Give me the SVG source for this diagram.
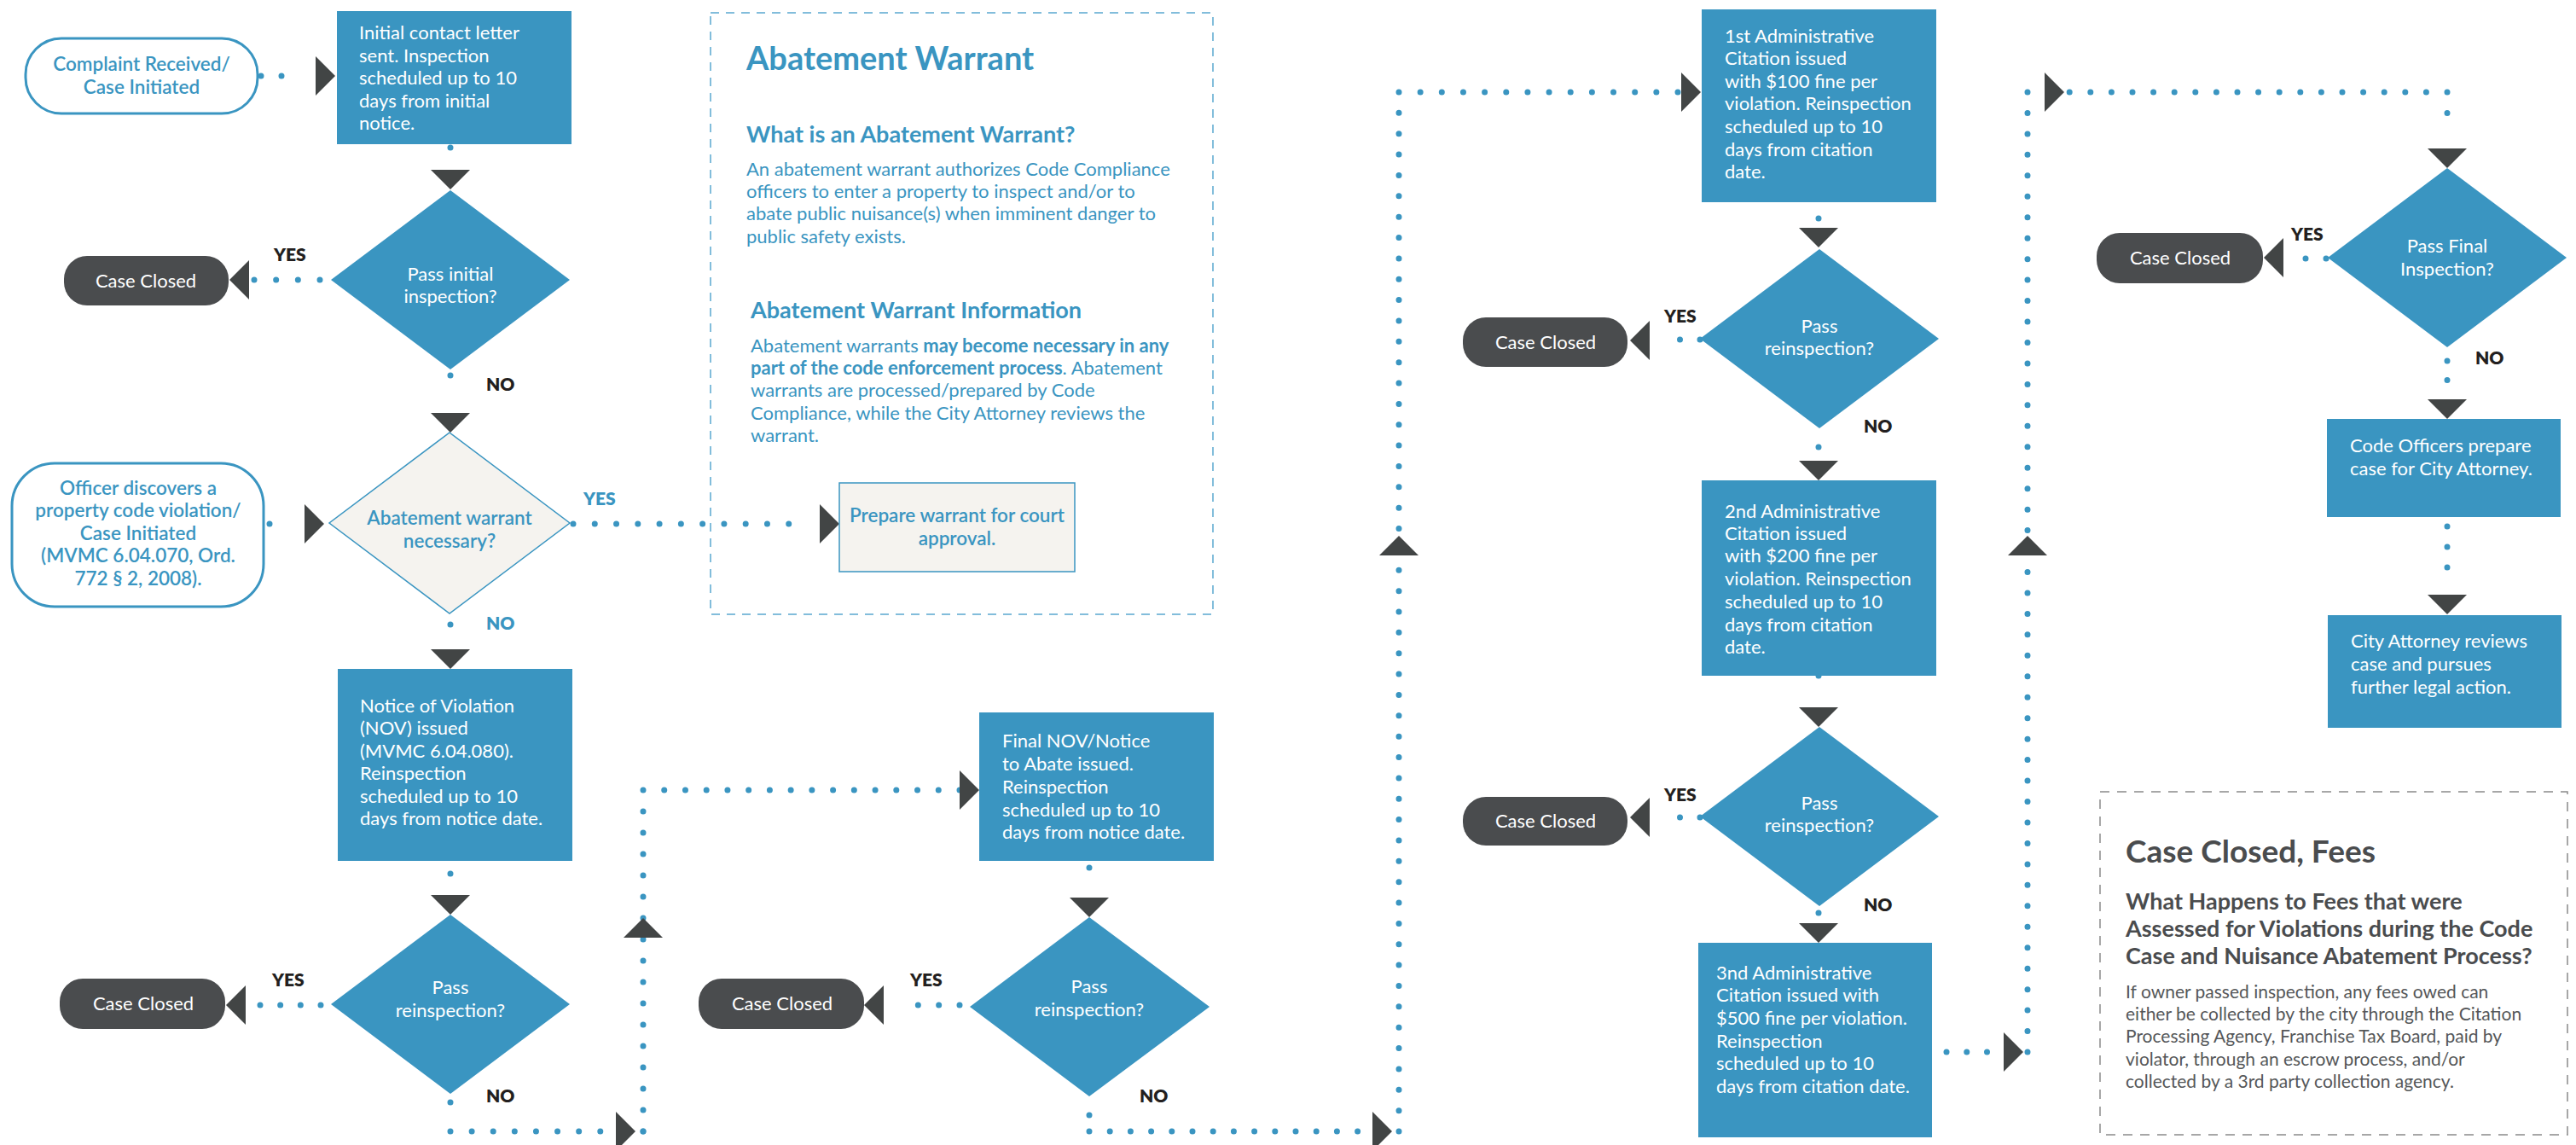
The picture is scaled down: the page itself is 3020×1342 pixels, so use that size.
<svg xmlns="http://www.w3.org/2000/svg" xmlns:xlink="http://www.w3.org/1999/xlink" width="3020" height="1342" viewBox="0 0 3020 1342">
<defs>
<style>
.box{fill:#3a95c1}
.bt{font-family:Lato,"Liberation Sans",sans-serif;font-size:22px;fill:#ffffff}
.dt{font-family:Lato,"Liberation Sans",sans-serif;font-size:22px;fill:#ffffff;text-anchor:middle}
.cc{fill:#4a4c4e}
.cct{font-family:Lato,"Liberation Sans",sans-serif;font-size:22px;fill:#ffffff;text-anchor:middle}
.pill{fill:#ffffff;stroke:#3a95c1;stroke-width:3}
.pt{font-family:Lato,"Liberation Sans",sans-serif;font-size:22.5px;font-weight:600;fill:#3a95c1;text-anchor:middle}
.yn{font-family:Lato,"Liberation Sans",sans-serif;font-size:21px;font-weight:800;fill:#231f20}
.ynb{font-family:Lato,"Liberation Sans",sans-serif;font-size:21px;font-weight:800;fill:#3a95c1}
.beige{fill:#f5f3ef;stroke:#3a95c1;stroke-width:1.5}
.dots{fill:none;stroke:#3a95c1;stroke-width:7;stroke-linecap:round;stroke-dasharray:0 1}
.dot{fill:#3a95c1}
.arr{fill:#424545}
.pnl1{fill:none;stroke:#5aa8d0;stroke-width:1.5;stroke-dasharray:10 8}
.pnl2{fill:none;stroke:#8a8a8a;stroke-width:1.5;stroke-dasharray:11 9}
.h1{font-family:Lato,"Liberation Sans",sans-serif;font-size:38px;font-weight:700;fill:#3a95c1}
.h2{font-family:Lato,"Liberation Sans",sans-serif;font-size:27px;font-weight:700;fill:#3a95c1}
.body{font-family:Lato,"Liberation Sans",sans-serif;font-size:22px;fill:#3a95c1}
.g1{font-family:Lato,"Liberation Sans",sans-serif;font-size:37px;font-weight:700;fill:#4a4c4e}
.g2{font-family:Lato,"Liberation Sans",sans-serif;font-size:27px;font-weight:700;fill:#4a4c4e}
.g3{font-family:Lato,"Liberation Sans",sans-serif;font-size:21px;fill:#555759}
</style>
<path id="aD" class="arr" d="M-23,-23 H23 L0,0 Z"/>
<path id="aU" class="arr" d="M-23,23 H23 L0,0 Z"/>
<path id="aR" class="arr" d="M-23,-23 V23 L0,0 Z"/>
<path id="aL" class="arr" d="M23,-23 V23 L0,0 Z"/>
</defs>
<rect width="3020" height="1342" fill="#ffffff"/>

<!-- panels -->
<g id="panel-abatement">
<rect class="pnl1" x="833" y="15" width="589" height="705"/>
<text class="h1" x="875" y="82">Abatement Warrant</text>
<text class="h2" x="875" y="167">What is an Abatement Warrant?</text>
<text class="body" x="875" y="206">An abatement warrant authorizes Code Compliance</text>
<text class="body" x="875" y="232">officers to enter a property to inspect and/or to</text>
<text class="body" x="875" y="258">abate public nuisance(s) when imminent danger to</text>
<text class="body" x="875" y="285">public safety exists.</text>
<text class="h2" x="880" y="373">Abatement Warrant Information</text>
<text class="body" x="880" y="413">Abatement warrants <tspan font-weight="700">may become necessary in any</tspan></text>
<text class="body" x="880" y="439"><tspan font-weight="700">part of the code enforcement process</tspan>. Abatement</text>
<text class="body" x="880" y="465">warrants are processed/prepared by Code</text>
<text class="body" x="880" y="492">Compliance, while the City Attorney reviews the</text>
<text class="body" x="880" y="518">warrant.</text>
</g>
<g id="panel-fees">
<rect class="pnl2" x="2462" y="928" width="548" height="402"/>
<text class="g1" x="2492" y="1011">Case Closed, Fees</text>
<text class="g2" x="2492" y="1066">What Happens to Fees that were</text>
<text class="g2" x="2492" y="1098">Assessed for Violations during the Code</text>
<text class="g2" x="2492" y="1130">Case and Nuisance Abatement Process?</text>
<text class="g3" x="2492" y="1170">If owner passed inspection, any fees owed can</text>
<text class="g3" x="2492" y="1196">either be collected by the city through the Citation</text>
<text class="g3" x="2492" y="1222">Processing Agency, Franchise Tax Board, paid by</text>
<text class="g3" x="2492" y="1249">violator, through an escrow process, and/or</text>
<text class="g3" x="2492" y="1275">collected by a 3rd party collection agency.</text>
</g>

<!-- connectors -->
<g id="connectors">
<path class="dots" pathLength="2" d="M306,89 H354"/>
<use href="#aR" x="393" y="89"/>
<path class="dots" pathLength="1" d="M528,173 V197"/>
<use href="#aD" x="528" y="222"/>
<path class="dots" pathLength="3" d="M375,328 H298"/>
<use href="#aL" x="269" y="328"/>
<path class="dots" pathLength="1" d="M528,440 V464"/>
<use href="#aD" x="528" y="507"/>
<path class="dots" pathLength="1" d="M316,614 H341"/>
<use href="#aR" x="380" y="614"/>
<path class="dots" pathLength="11" d="M672,614 H950"/>
<use href="#aR" x="984" y="614"/>
<path class="dots" pathLength="1" d="M528,732 V756"/>
<use href="#aD" x="528" y="784"/>
<path class="dots" pathLength="1" d="M528,1024 V1048"/>
<use href="#aD" x="528" y="1072"/>
<path class="dots" pathLength="3" d="M376,1178 H305"/>
<use href="#aL" x="265" y="1178"/>
<path class="dots" pathLength="1" d="M528,1292 V1326"/>
<path class="dots" pathLength="9" d="M528,1326 H754"/>
<path class="dots" pathLength="16" d="M754,1326 V926"/>
<path class="dots" pathLength="15" d="M754,926 H1125"/>
<use href="#aR" x="745" y="1326"/>
<use href="#aU" x="754" y="1076"/>
<use href="#aR" x="1148" y="926"/>
<path class="dots" pathLength="1" d="M1277,1017 V1041"/>
<use href="#aD" x="1277" y="1075"/>
<path class="dots" pathLength="3" d="M1125,1178 H1052"/>
<use href="#aL" x="1013" y="1178"/>
<path class="dots" pathLength="1" d="M1277,1307 V1326"/>
<path class="dots" pathLength="15" d="M1277,1326 H1640"/>
<path class="dots" pathLength="50" d="M1640,1326 V108"/>
<path class="dots" pathLength="13" d="M1640,108 H1967"/>
<use href="#aR" x="1632" y="1326"/>
<use href="#aU" x="1640" y="628"/>
<use href="#aR" x="1994" y="108"/>
<circle class="dot" cx="2132" cy="256" r="3.5"/>
<use href="#aD" x="2132" y="290"/>
<path class="dots" pathLength="2" d="M1993,398 H1946"/>
<use href="#aL" x="1911" y="399"/>
<circle class="dot" cx="2132" cy="524" r="3.5"/>
<use href="#aD" x="2132" y="563"/>
<path class="dots" pathLength="1" d="M2132,792 V816"/>
<use href="#aD" x="2132" y="852"/>
<path class="dots" pathLength="2" d="M1993,958 H1946"/>
<use href="#aL" x="1911" y="958"/>
<circle class="dot" cx="2132" cy="1070" r="3.5"/>
<use href="#aD" x="2132" y="1105"/>
<path class="dots" pathLength="4" d="M2282,1233 H2377"/>
<path class="dots" pathLength="46" d="M2377,1233 V108"/>
<path class="dots" pathLength="20" d="M2377,108 H2869"/>
<path class="dots" pathLength="2" d="M2869,108 V157"/>
<use href="#aR" x="2372" y="1233"/>
<use href="#aU" x="2377" y="628"/>
<use href="#aR" x="2420" y="108"/>
<use href="#aD" x="2869" y="197"/>
<path class="dots" pathLength="2" d="M2727,303 H2679"/>
<use href="#aL" x="2654" y="302"/>
<path class="dots" pathLength="2" d="M2869,423 V468"/>
<use href="#aD" x="2869" y="491"/>
<path class="dots" pathLength="3" d="M2869,617 V689"/>
<use href="#aD" x="2869" y="720"/>
</g>

<!-- nodes -->
<g id="complaint">
<rect class="pill" x="30" y="45" width="272" height="88" rx="42"/>
<text class="pt" x="166" y="83">Complaint Received/</text>
<text class="pt" x="166" y="110">Case Initiated</text>
</g>
<g id="initial-contact">
<rect class="box" x="395" y="13" width="275" height="156"/>
<text class="bt" x="421" y="46">Initial contact letter</text>
<text class="bt" x="421" y="73">sent. Inspection</text>
<text class="bt" x="421" y="99">scheduled up to 10</text>
<text class="bt" x="421" y="126">days from initial</text>
<text class="bt" x="421" y="152">notice.</text>
</g>
<g id="pass-initial">
<polygon class="box" points="528,223 668,328 528,433 388,328"/>
<text class="dt" x="528" y="329">Pass initial</text>
<text class="dt" x="528" y="355">inspection?</text>
</g>
<g id="closed-1">
<rect class="cc" x="75" y="300" width="193" height="58" rx="27"/>
<text class="cct" x="171" y="337">Case Closed</text>
</g>
<g id="label-yes-1"><text class="yn" x="321" y="306">YES</text></g>
<g id="label-no-1"><text class="yn" x="570" y="458">NO</text></g>
<g id="officer">
<rect class="pill" x="14" y="543" width="295" height="168" rx="50"/>
<text class="pt" x="162" y="580">Officer discovers a</text>
<text class="pt" x="162" y="606">property code violation/</text>
<text class="pt" x="162" y="633">Case Initiated</text>
<text class="pt" x="162" y="659">(MVMC 6.04.070, Ord.</text>
<text class="pt" x="162" y="686">772 § 2, 2008).</text>
</g>
<g id="abatement-needed">
<polygon class="beige" points="527,507 668,613 527,719 386,613"/>
<text class="pt" x="527" y="615" font-size="22" font-weight="500">Abatement warrant</text>
<text class="pt" x="527" y="642" font-size="22" font-weight="500">necessary?</text>
</g>
<g id="label-yes-ab"><text class="ynb" x="684" y="592">YES</text></g>
<g id="label-no-ab"><text class="ynb" x="570" y="738">NO</text></g>
<g id="prepare-warrant">
<rect class="beige" x="984" y="566" width="276" height="104"/>
<text class="pt" x="1122" y="612">Prepare warrant for court</text>
<text class="pt" x="1122" y="639">approval.</text>
</g>
<g id="nov">
<rect class="box" x="396" y="784" width="275" height="225"/>
<text class="bt" x="422" y="835">Notice of Violation</text>
<text class="bt" x="422" y="861">(NOV) issued</text>
<text class="bt" x="422" y="888">(MVMC 6.04.080).</text>
<text class="bt" x="422" y="914">Reinspection</text>
<text class="bt" x="422" y="941">scheduled up to 10</text>
<text class="bt" x="422" y="967">days from notice date.</text>
</g>
<g id="pass-reinspection-1">
<polygon class="box" points="528,1072 668,1177 528,1282 388,1177"/>
<text class="dt" x="528" y="1165">Pass</text>
<text class="dt" x="528" y="1192">reinspection?</text>
</g>
<g id="closed-2">
<rect class="cc" x="70" y="1147" width="194" height="59" rx="27"/>
<text class="cct" x="168" y="1184">Case Closed</text>
</g>
<g id="label-yes-2"><text class="yn" x="319" y="1156">YES</text></g>
<g id="label-no-2"><text class="yn" x="570" y="1292">NO</text></g>
<g id="final-nov">
<rect class="box" x="1148" y="835" width="275" height="174"/>
<text class="bt" x="1175" y="876">Final NOV/Notice</text>
<text class="bt" x="1175" y="903">to Abate issued.</text>
<text class="bt" x="1175" y="930">Reinspection</text>
<text class="bt" x="1175" y="957">scheduled up to 10</text>
<text class="bt" x="1175" y="983">days from notice date.</text>
</g>
<g id="pass-reinspection-2">
<polygon class="box" points="1277,1075 1418,1180 1277,1285 1137,1180"/>
<text class="dt" x="1277" y="1164">Pass</text>
<text class="dt" x="1277" y="1191">reinspection?</text>
</g>
<g id="closed-3">
<rect class="cc" x="819" y="1147" width="194" height="59" rx="27"/>
<text class="cct" x="917" y="1184">Case Closed</text>
</g>
<g id="label-yes-3"><text class="yn" x="1067" y="1156">YES</text></g>
<g id="label-no-3"><text class="yn" x="1336" y="1292">NO</text></g>
<g id="citation-1">
<rect class="box" x="1995" y="11" width="275" height="226"/>
<text class="bt" x="2022" y="50">1st Administrative</text>
<text class="bt" x="2022" y="76">Citation issued</text>
<text class="bt" x="2022" y="103">with $100 fine per</text>
<text class="bt" x="2022" y="129">violation. Reinspection</text>
<text class="bt" x="2022" y="156">scheduled up to 10</text>
<text class="bt" x="2022" y="183">days from citation</text>
<text class="bt" x="2022" y="209">date.</text>
</g>
<g id="pass-reinspection-3">
<polygon class="box" points="2133,292 2273,397 2133,502 1993,397"/>
<text class="dt" x="2133" y="390">Pass</text>
<text class="dt" x="2133" y="416">reinspection?</text>
</g>
<g id="closed-4">
<rect class="cc" x="1715" y="372" width="193" height="58" rx="27"/>
<text class="cct" x="1812" y="409">Case Closed</text>
</g>
<g id="label-yes-4"><text class="yn" x="1951" y="378">YES</text></g>
<g id="label-no-4"><text class="yn" x="2185" y="507">NO</text></g>
<g id="citation-2">
<rect class="box" x="1995" y="563" width="275" height="229"/>
<text class="bt" x="2022" y="607">2nd Administrative</text>
<text class="bt" x="2022" y="633">Citation issued</text>
<text class="bt" x="2022" y="659">with $200 fine per</text>
<text class="bt" x="2022" y="686">violation. Reinspection</text>
<text class="bt" x="2022" y="713">scheduled up to 10</text>
<text class="bt" x="2022" y="740">days from citation</text>
<text class="bt" x="2022" y="766">date.</text>
</g>
<g id="pass-reinspection-4">
<polygon class="box" points="2133,852 2273,957 2133,1062 1993,957"/>
<text class="dt" x="2133" y="949">Pass</text>
<text class="dt" x="2133" y="975">reinspection?</text>
</g>
<g id="closed-5">
<rect class="cc" x="1715" y="934" width="193" height="57" rx="27"/>
<text class="cct" x="1812" y="970">Case Closed</text>
</g>
<g id="label-yes-5"><text class="yn" x="1951" y="939">YES</text></g>
<g id="label-no-5"><text class="yn" x="2185" y="1068">NO</text></g>
<g id="citation-3">
<rect class="box" x="1991" y="1105" width="274" height="228"/>
<text class="bt" x="2012" y="1148">3nd Administrative</text>
<text class="bt" x="2012" y="1174">Citation issued with</text>
<text class="bt" x="2012" y="1201">$500 fine per violation.</text>
<text class="bt" x="2012" y="1228">Reinspection</text>
<text class="bt" x="2012" y="1254">scheduled up to 10</text>
<text class="bt" x="2012" y="1281">days from citation date.</text>
</g>
<g id="pass-final">
<polygon class="box" points="2869,197 3009,302 2869,407 2729,302"/>
<text class="dt" x="2869" y="296">Pass Final</text>
<text class="dt" x="2869" y="323">Inspection?</text>
</g>
<g id="closed-6">
<rect class="cc" x="2458" y="273" width="195" height="59" rx="27"/>
<text class="cct" x="2556" y="310">Case Closed</text>
</g>
<g id="label-yes-6"><text class="yn" x="2686" y="282">YES</text></g>
<g id="label-no-6"><text class="yn" x="2902" y="427">NO</text></g>
<g id="code-officers">
<rect class="box" x="2728" y="491" width="274" height="115"/>
<text class="bt" x="2755" y="530">Code Officers prepare</text>
<text class="bt" x="2755" y="557">case for City Attorney.</text>
</g>
<g id="city-attorney">
<rect class="box" x="2729" y="721" width="274" height="132"/>
<text class="bt" x="2756" y="759">City Attorney reviews</text>
<text class="bt" x="2756" y="786">case and pursues</text>
<text class="bt" x="2756" y="813">further legal action.</text>
</g>
</svg>
